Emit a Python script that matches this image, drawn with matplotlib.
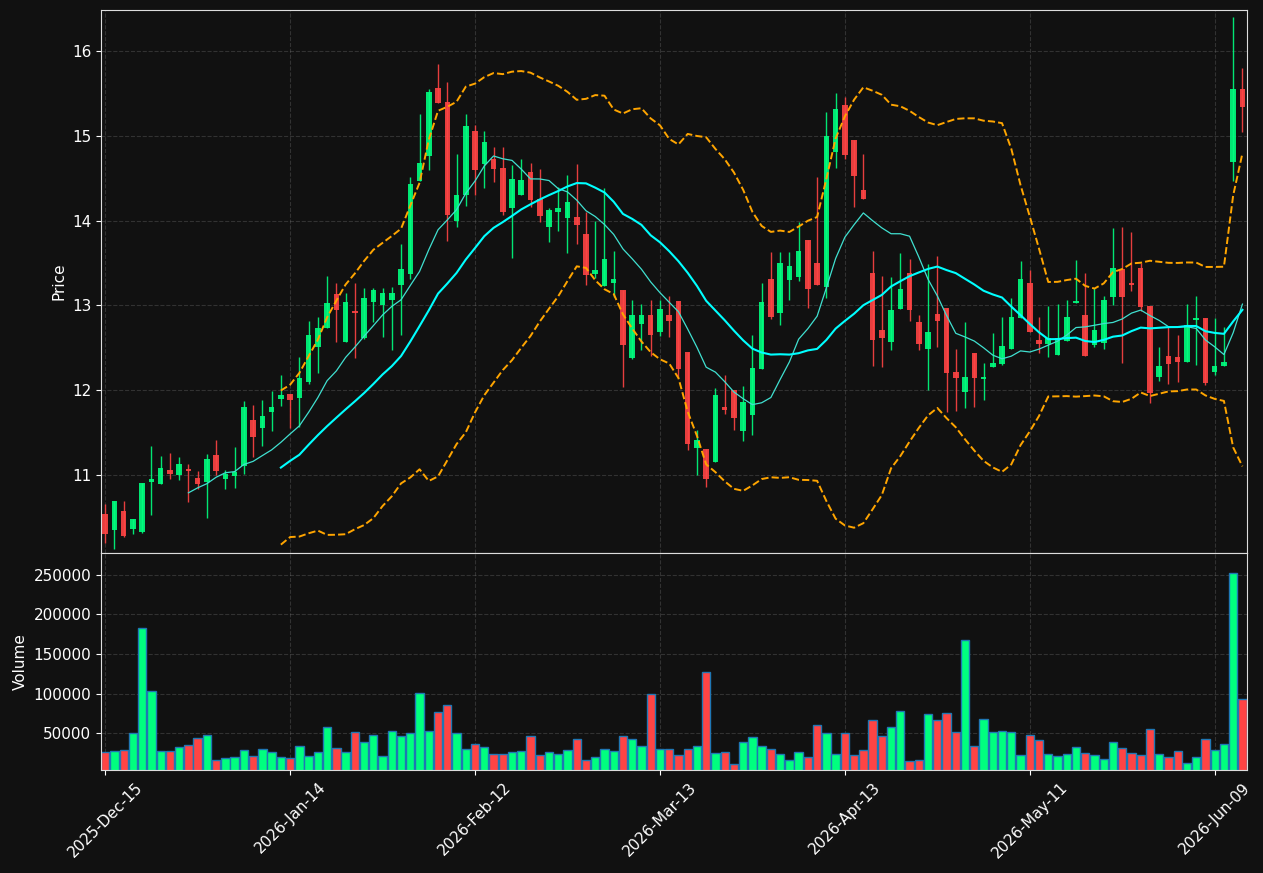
import numpy as np
import pandas as pd
import matplotlib
matplotlib.use("Agg")
import matplotlib.pyplot as plt

# daily OHLCV, one entry per trading day (2025-12-15 .. 2026-06-10)
opens = [10.54, 10.35, 10.58, 10.37, 10.33, 10.92, 10.90, 11.06, 11.00, 11.06,
         10.97, 10.92, 11.24, 10.96, 10.99, 11.11, 11.65, 11.56, 11.74, 11.90,
         11.96, 11.91, 12.10, 12.51, 12.74, 13.13, 12.57, 12.93, 12.62, 13.04,
         13.00, 13.07, 13.24, 13.37, 14.47, 14.76, 15.56, 15.40, 13.99, 14.30,
         15.06, 14.67, 14.72, 14.62, 14.15, 14.30, 14.57, 14.25, 13.93, 14.10,
         14.03, 14.04, 13.84, 13.37, 13.23, 13.27, 13.18, 12.38, 12.78, 12.89,
         12.69, 12.89, 13.05, 12.45, 11.32, 11.31, 11.16, 11.81, 12.00, 11.52,
         11.71, 12.25, 13.31, 12.91, 13.30, 13.33, 13.77, 13.50, 13.22, 14.81,
         15.36, 14.95, 14.36, 13.38, 12.71, 12.57, 12.96, 13.38, 12.80, 12.49,
         12.90, 12.97, 12.22, 11.98, 12.44, 12.13, 12.28, 12.31, 12.49, 12.85,
         13.27, 12.59, 12.55, 12.42, 12.58, 13.03, 12.89, 12.53, 12.56, 13.10,
         13.43, 13.25, 13.44, 12.99, 12.16, 12.40, 12.39, 12.34, 12.83, 12.85,
         12.22, 12.29, 14.69, 15.55]
highs = [10.66, 10.70, 10.70, 10.49, 10.91, 11.35, 11.23, 11.26, 11.22, 11.13,
         11.05, 11.25, 11.41, 11.06, 11.33, 11.88, 11.83, 11.89, 11.99, 12.18,
         11.96, 12.39, 12.82, 12.86, 13.35, 13.26, 13.15, 13.26, 13.20, 13.21,
         13.21, 13.22, 13.73, 14.51, 15.25, 15.55, 15.85, 15.63, 14.78, 15.25,
         15.12, 15.05, 14.87, 14.87, 14.66, 14.73, 14.68, 14.61, 14.15, 14.40,
         14.54, 14.67, 14.10, 14.00, 14.38, 13.64, 13.18, 13.06, 13.02, 13.06,
         13.06, 13.11, 13.05, 12.45, 11.53, 11.31, 12.03, 12.18, 12.00, 12.05,
         12.65, 13.26, 13.63, 13.63, 13.63, 13.98, 13.77, 14.51, 15.28, 15.50,
         15.46, 14.95, 14.78, 13.64, 13.35, 13.33, 13.62, 13.55, 12.89, 13.49,
         13.58, 12.97, 12.49, 12.81, 12.44, 12.32, 12.67, 12.87, 13.09, 13.52,
         13.42, 12.87, 12.99, 13.02, 13.07, 13.53, 13.38, 13.21, 13.11, 13.91,
         13.92, 13.86, 13.50, 12.99, 12.51, 12.75, 12.65, 13.02, 13.11, 12.85,
         12.85, 12.75, 16.40, 15.80]
lows = [10.20, 10.13, 10.27, 10.31, 10.32, 10.53, 10.90, 10.96, 10.94, 10.69,
        10.84, 10.50, 11.00, 10.84, 10.85, 11.02, 11.22, 11.34, 11.52, 11.82,
        11.56, 11.57, 12.08, 12.21, 12.74, 12.57, 12.57, 12.38, 12.60, 12.80,
        12.63, 12.48, 12.65, 13.31, 14.47, 14.60, 15.38, 13.76, 13.92, 14.17,
        14.30, 14.38, 14.45, 14.07, 13.56, 14.30, 14.16, 13.98, 13.75, 13.88,
        13.62, 13.73, 13.24, 13.32, 13.23, 13.10, 12.04, 12.37, 12.47, 12.40,
        12.64, 12.63, 12.15, 11.30, 11.00, 10.86, 11.16, 11.72, 11.53, 11.40,
        11.48, 12.25, 12.84, 12.77, 13.07, 13.29, 12.97, 13.24, 13.09, 14.62,
        14.73, 14.16, 14.25, 12.29, 12.27, 12.47, 12.96, 12.82, 12.47, 12.01,
        12.51, 11.75, 11.76, 11.79, 11.80, 11.89, 12.28, 12.30, 12.49, 12.85,
        12.69, 12.44, 12.39, 12.42, 12.58, 13.03, 12.40, 12.51, 12.49, 13.00,
        12.32, 13.17, 12.93, 11.85, 12.11, 12.08, 12.10, 12.34, 12.30, 12.06,
        12.18, 12.29, 14.47, 15.04]
closes = [10.31, 10.70, 10.29, 10.48, 10.91, 10.96, 11.08, 11.02, 11.13, 11.05,
          10.90, 11.19, 11.05, 11.01, 11.04, 11.80, 11.45, 11.70, 11.80, 11.94,
          11.89, 12.14, 12.65, 12.74, 13.03, 12.95, 13.04, 12.91, 13.09, 13.18,
          13.15, 13.15, 13.43, 14.43, 14.68, 15.51, 15.39, 14.06, 14.30, 15.11,
          14.60, 14.92, 14.61, 14.10, 14.49, 14.48, 14.24, 14.05, 14.12, 14.15,
          14.22, 13.95, 13.36, 13.42, 13.55, 13.31, 12.53, 12.89, 12.89, 12.65,
          12.96, 12.82, 12.25, 11.37, 11.41, 10.96, 11.95, 11.77, 11.67, 11.86,
          12.26, 13.04, 12.87, 13.50, 13.47, 13.64, 13.19, 13.24, 15.00, 15.32,
          14.77, 14.52, 14.25, 12.59, 12.62, 12.95, 13.19, 12.95, 12.55, 12.69,
          12.82, 12.21, 12.15, 12.16, 12.14, 12.16, 12.32, 12.52, 12.86, 13.31,
          12.69, 12.55, 12.62, 12.62, 12.86, 13.05, 12.40, 12.71, 13.06, 13.44,
          13.10, 13.24, 12.98, 11.97, 12.29, 12.31, 12.34, 12.77, 12.85, 12.09,
          12.29, 12.33, 15.55, 15.34]
volumes = [26000, 27200, 28500, 50000, 182900, 103200, 27200, 27200, 32300, 34800,
           43700, 47500, 15800, 18400, 19600, 28500, 20900, 29700, 26000, 19600,
           18400, 33500, 20900, 26000, 57600, 31000, 26000, 51300, 38600, 47500,
           20900, 52500, 46200, 50000, 100600, 52500, 76600, 85400, 50000, 29700,
           36100, 32300, 23400, 23400, 26000, 27200, 46200, 22200, 26000, 23400,
           28500, 42400, 15800, 19600, 29700, 27200, 46200, 42400, 33500, 99400,
           29700, 29700, 22200, 29700, 33500, 127200, 24700, 26000, 10800, 38600,
           44900, 33500, 29700, 23400, 15800, 26000, 19600, 60100, 50000, 23400,
           50000, 22200, 28500, 66500, 46200, 57600, 77800, 14600, 15800, 74000,
           66500, 75300, 51300, 167700, 33500, 67700, 51300, 52500, 51300, 22200,
           47500, 41100, 23400, 20900, 23400, 32300, 24700, 22200, 17100, 38600,
           31000, 24700, 22200, 55100, 23400, 19600, 27200, 12000, 19600, 42400,
           28500, 36100, 252500, 93000]

holidays = ["2025-12-25", "2026-01-01", "2026-01-19", "2026-02-16",
            "2026-04-03", "2026-05-25"]
dates = pd.bdate_range("2025-12-15", periods=len(closes), freq="C", holidays=holidays)

UP = "#00ff7f"
DOWN = "#ff4444"
BG = "#111111"

df = pd.DataFrame({"open": opens, "high": highs, "low": lows,
                   "close": closes, "volume": volumes}, index=dates)
x = np.arange(len(df))
up = df["close"] >= df["open"]
colours = np.where(up, UP, DOWN)

# indicators: SMA10, SMA20 and 20-day Bollinger bands
ma10 = df["close"].rolling(10).mean()
ma20 = df["close"].rolling(20).mean()
std20 = df["close"].rolling(20).std(ddof=0)
bb_up = ma20 + 2 * std20
bb_lo = ma20 - 2 * std20

fig = plt.figure(figsize=(12.63, 8.73), dpi=100, facecolor=BG)
ax = fig.add_axes([0.0800, 0.3671, 0.9070, 0.6214])
ax_v = fig.add_axes([0.0800, 0.1180, 0.9070, 0.2491], sharex=ax)

for a in (ax, ax_v):
    a.set_facecolor(BG)
    for s in a.spines.values():
        s.set_color("#dddddd")
    a.tick_params(colors="white", labelsize=11)
    a.grid(True, color="gray", linestyle="--", alpha=0.3, linewidth=0.8)
    a.set_axisbelow(True)

# candles
ax.vlines(x, df["low"], df["high"], colors=colours, linewidth=1, alpha=0.9)
body = (df["close"] - df["open"]).abs().clip(lower=0.02)
ax.bar(x, body, bottom=df[["open", "close"]].min(axis=1), width=0.6,
       color=colours, alpha=0.9)

ax.plot(x, ma10, color="#40e0d0", linewidth=0.9)
ax.plot(x, ma20, color="cyan", linewidth=1.5)
ax.plot(x, bb_up, color="orange", linestyle="--", linewidth=1.4)
ax.plot(x, bb_lo, color="orange", linestyle="--", linewidth=1.4)

ax.set_ylim(10.09, 16.48)
ax.set_ylabel("Price", color="white", fontsize=11)
ax.tick_params(axis="x", labelbottom=False)

# volume
ax_v.bar(x, df["volume"], width=0.9, color=colours, edgecolor="#1f77b4", linewidth=1)
ax_v.set_ylim(3600, 278000)
ax_v.set_yticks([50000, 100000, 150000, 200000, 250000])
ax_v.set_yticklabels(["50000", "100000", "150000", "200000", "250000"])
ax_v.set_ylabel("Volume", color="white", fontsize=11)

tick_pos = x[::20]
ax_v.set_xticks(tick_pos)
ax_v.set_xticklabels([d.strftime("%Y-%b-%d") for d in dates[::20]], rotation=45)
ax_v.set_xlim(-0.45, len(df) - 0.55)

plt.savefig("out.png", dpi=100, facecolor=BG)
